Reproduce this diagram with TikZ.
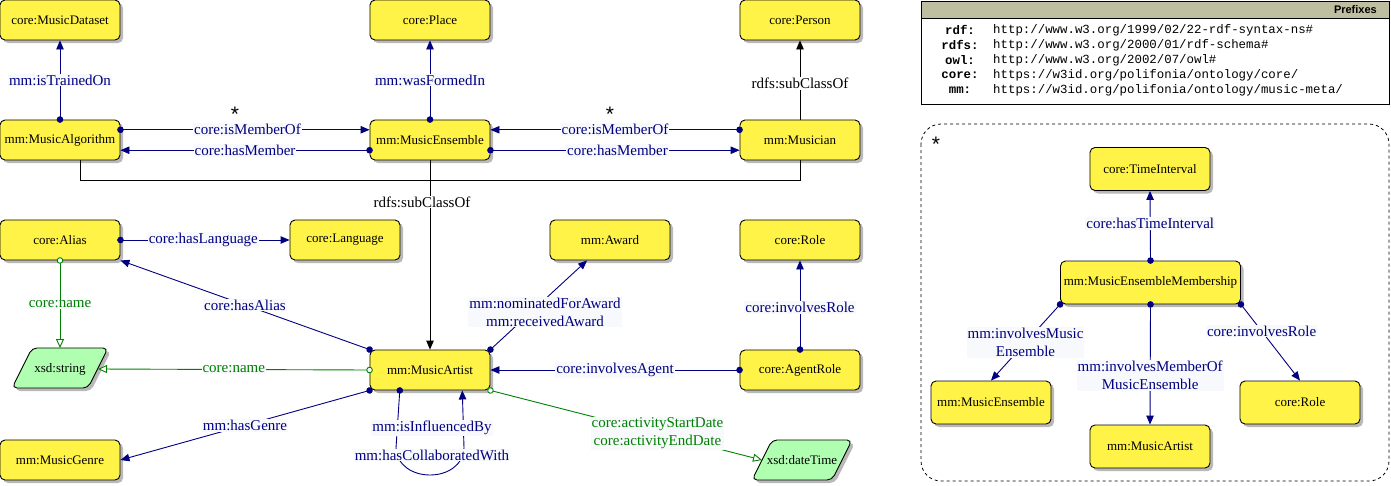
\documentclass[tikz,border=0pt]{standalone}
\usepackage{fontspec}
\setmainfont{Liberation Serif}
\newfontfamily\monof{Liberation Mono}
\newfontfamily\sansf{Liberation Sans}
\usetikzlibrary{arrows.meta,shadows,calc}
\definecolor{nodeyellow}{RGB}{255,243,71}
\definecolor{dtgreen}{RGB}{176,255,176}
\definecolor{navyc}{RGB}{0,0,128}
\definecolor{greenc}{RGB}{0,128,0}
\definecolor{lblbg}{RGB}{248,249,252}
\definecolor{hdr}{RGB}{190,190,160}
\definecolor{shadowc}{RGB}{185,185,185}
\begin{document}
\begin{tikzpicture}[x=1pt,y=-1pt,
  cls/.style={draw=black, fill=nodeyellow, rounded corners=5pt, minimum width=120pt, minimum height=40pt, inner sep=0pt, font=\fontsize{13}{15}\selectfont, line width=0.9pt, drop shadow={shadow xshift=3pt, shadow yshift=-3pt, fill=shadowc, opacity=1}},
  clsr/.style={cls, minimum height=43pt},
  dtxt/.style={inner sep=0pt, font=\fontsize{13}{15}\selectfont},
  para/.style={draw=black, fill=dtgreen, rounded corners=5pt, line width=0.9pt},
  parash/.style={fill=shadowc, rounded corners=5pt},
  obj/.style={draw=navyc, line width=0.9pt, {Circle[length=6.5pt]}-{Triangle[length=9pt,width=7.5pt]}, shorten <=-3.25pt},
  dat/.style={draw=greenc, line width=0.9pt, {Circle[length=6.5pt,fill=white]}-{Triangle[open,length=9pt,width=8pt,fill=white]}, shorten <=-3.25pt},
  sub/.style={draw=black, line width=0.9pt, -{Triangle[length=9pt,width=7.5pt]}},
  plain/.style={draw=black, line width=0.9pt},
  lbl/.style={fill=lblbg, text=navyc, inner sep=1pt, font=\fontsize{15}{18}\selectfont, align=center},
  glbl/.style={lbl, text=greenc},
  blbl/.style={lbl, fill=white, text=black},
  star/.style={inner sep=0pt, font=\sansf\fontsize{21}{21}\selectfont},
  pfx/.style={inner sep=0pt, font=\monof\bfseries\fontsize{12.4}{14}\selectfont},
  uri/.style={inner sep=0pt, anchor=west, font=\monof\fontsize{12.4}{14}\selectfont}
]
\useasboundingbox (0,0) rectangle (1391,485);

% ---------- class nodes ----------
\node[cls] (ds) at (60,20) {core:MusicDataset};
\node[cls] (place) at (430,20) {core:Place};
\node[cls] (person) at (800,20) {core:Person};
\node[cls] (alg) at (60,140) {mm:MusicAlgorithm};
\node[cls] (ens) at (430,140) {mm:MusicEnsemble};
\node[cls] (mus) at (800,140) {mm:Musician};
\node[cls] (alias) at (60,240) {core:Alias};
\node[cls, minimum width=110pt] (lang) at (345,240) {core:Language};
\node[cls] (award) at (610,240) {mm:Award};
\node[cls] (role) at (800,240) {core:Role};
\node[cls] (artist) at (430,370) {mm:MusicArtist};
\node[cls] (agent) at (800,370) {core:AgentRole};
\node[cls] (genre) at (60,460) {mm:MusicGenre};

% ---------- datatype nodes (parallelograms) ----------
\fill[parash] (35,351) -- (111,351) -- (91,391) -- (15,391) -- cycle;
\draw[para] (32,348) -- (108,348) -- (88,388) -- (12,388) -- cycle;
\node[dtxt] (str) at (60,369) {xsd:string};
\coordinate (strR) at (98,369);
\coordinate (strT) at (60,348);
\fill[parash] (775,443) -- (855,443) -- (835,483) -- (755,483) -- cycle;
\draw[para] (772,440) -- (852,440) -- (832,480) -- (752,480) -- cycle;
\node[dtxt] (dt) at (802,460) {xsd:dateTime};
\coordinate (dtL) at (762,460);

% ---------- top connectors ----------
\draw[obj] (alg.north) -- node[lbl,pos=0.5] {mm:isTrainedOn} (ds.south);
\draw[obj] (ens.north) -- node[lbl,pos=0.5] {mm:wasFormedIn} (place.south);
\draw[sub] (mus.north) -- node[blbl,pos=0.46] {rdfs:subClassOf} (person.south);

\draw[obj] ($(alg.north east)!0.25!(alg.south east)$) -- node[lbl,pos=0.51] {core:isMemberOf} ($(ens.north west)!0.25!(ens.south west)$);
\draw[obj] ($(ens.north west)!0.75!(ens.south west)$) -- node[lbl,pos=0.5] {core:hasMember} ($(alg.north east)!0.75!(alg.south east)$);
\draw[obj] ($(mus.north west)!0.25!(mus.south west)$) -- node[lbl,pos=0.5] {core:isMemberOf} ($(ens.north east)!0.25!(ens.south east)$);
\draw[obj] ($(ens.north east)!0.75!(ens.south east)$) -- node[lbl,pos=0.51] {core:hasMember} ($(mus.north west)!0.75!(mus.south west)$);
\node[star] (star1) at (235,114) {*};
\node[star] (star2) at (610,114) {*};

% ---------- subclass join ----------
\coordinate (join) at (430,180);
\draw[plain] ($(alg.south)+(20,0)$) |- (join);
\draw[plain] (mus.south) |- (join);
\draw[sub] (ens.south) -- (artist.north);
\node[blbl] (subl) at (422,202) {rdfs:subClassOf};

% ---------- middle connectors ----------
\draw[obj] (alias.east) -- node[lbl,pos=0.49] {core:hasLanguage} (lang.west);
\draw[dat] (alias.south) -- node[glbl,pos=0.5] {core:name} (strT);
\draw[obj] (artist.north west) -- node[lbl,pos=0.5] {core:hasAlias} (alias.south east);
\draw[dat] (artist.west) -- node[glbl,pos=0.5] {core:name} (strR);
\draw[obj] (artist.south west) -- node[lbl,pos=0.5] {mm:hasGenre} (genre.east);
\draw[obj] (artist.north east) -- node[lbl,pos=0.42,xshift=14pt] {mm:nominatedForAward\\mm:receivedAward} ($(award.south west)!0.31!(award.south east)$);
\draw[obj] (agent.west) -- node[lbl,pos=0.5] {core:involvesAgent} (artist.east);
\draw[obj] (agent.north) -- node[lbl,pos=0.47] {core:involvesRole} (role.south);
\draw[dat] (artist.south east) -- node[glbl,pos=0.615] {core:activityStartDate\\core:activityEndDate} (dtL);

% self loop
\draw[obj] ($(artist.south west)!0.25!(artist.south east)$) -- (396,448) .. controls (398,484) and (462,484) .. (464,448) -- ($(artist.south west)!0.767!(artist.south east)$);
\node[lbl] (infl) at (432,428) {mm:isInfluencedBy};
\node[lbl] (collab) at (432,455) {mm:hasCollaboratedWith};

% ---------- prefixes ----------
\fill[hdr] (921,1) rectangle (1389,18);
\draw[line width=0.9pt] (921,1) rectangle (1389,104);
\draw[line width=0.9pt] (921,18) -- (1389,18);
\node[inner sep=0pt, anchor=east, font=\sansf\bfseries\fontsize{11}{13}\selectfont] (pfxh) at (1377,10) {Prefixes};
\node[pfx] (p1) at (960,30) {rdf:};
\node[uri] (u1) at (993,30) {http://www.w3.org/1999/02/22-rdf-syntax-ns\#};
\node[pfx] (p2) at (960,45) {rdfs:};
\node[uri] (u2) at (993,45) {http://www.w3.org/2000/01/rdf-schema\#};
\node[pfx] (p3) at (960,60) {owl:};
\node[uri] (u3) at (993,60) {http://www.w3.org/2002/07/owl\#};
\node[pfx] (p4) at (960,75) {core:};
\node[uri] (u4) at (993,75) {https://w3id.org/polifonia/ontology/core/};
\node[pfx] (p5) at (960,90) {mm:};
\node[uri] (u5) at (993,90) {https://w3id.org/polifonia/ontology/music-meta/};

% ---------- membership panel ----------
\draw[dash pattern=on 3pt off 3pt, rounded corners=20pt, line width=0.8pt] (921,124) rectangle (1389,481);
\node[star] (star3) at (936,144) {*};
\node[clsr] (ti) at (1150,169) {core:TimeInterval};
\node[clsr, minimum width=180pt] (mem) at (1150.5,282.5) {mm:MusicEnsembleMembership};
\node[clsr] (ens2) at (991,402.5) {mm:MusicEnsemble};
\node[clsr] (role2) at (1300,402.5) {core:Role};
\node[clsr] (art2) at (1150,446.5) {mm:MusicArtist};

\draw[obj] (mem.north) -- node[lbl,pos=0.53] {core:hasTimeInterval} (ti.south);
\draw[obj] (mem.south west) -- node[lbl,pos=0.5] {mm:involvesMusic\\Ensemble} (ens2.north);
\draw[obj] (mem.south) -- node[lbl,pos=0.59] {mm:involvesMemberOf\\MusicEnsemble} (art2.north);
\draw[obj] (mem.south east) -- node[lbl,pos=0.35] {core:involvesRole} (role2.north);
\end{tikzpicture}
\end{document}
